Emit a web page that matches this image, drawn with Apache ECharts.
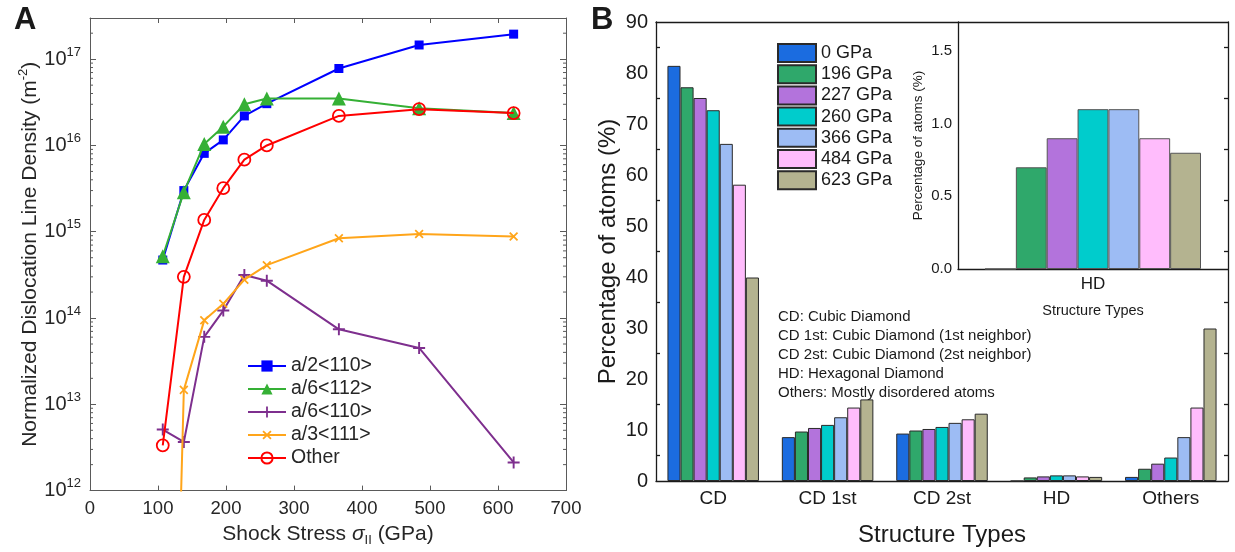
<!DOCTYPE html>
<html>
<head>
<meta charset="utf-8">
<script src="https://cdn.jsdelivr.net/npm/echarts@6/dist/echarts.min.js"></script>
<style>html,body{margin:0;padding:0;background:#fff;}#c{width:1235px;height:552px;}</style>
</head>
<body>
<div id="c"></div>
<script>
// ---------- Panel A data ----------
const stress = [107, 138, 168, 196, 227, 260, 366, 484, 623];
const a2_110 = [4.7e14, 3.0e15, 8.1e15, 1.16e16, 2.2e16, 3.05e16, 7.8e16, 1.46e17, 1.95e17];
const a6_112 = [5.2e14, 2.87e15, 1.04e16, 1.65e16, 3.0e16, 3.5e16, 3.5e16, 2.7e16, 2.37e16];
const a6_110 = [5.1e12, 3.66e12, 6.05e13, 1.22e14, 3.15e14, 2.71e14, 7.4e13, 4.5e13, 2.12e12];
const a3_111 = [1e4, 1.47e13, 9.4e13, 1.46e14, 2.78e14, 4.1e14, 8.4e14, 9.4e14, 8.8e14];
const other  = [3.35e12, 3.0e14, 1.37e15, 3.2e15, 6.85e15, 1.0e16, 2.2e16, 2.63e16, 2.37e16];
const lineNames = ['a/2<110>', 'a/6<112>', 'a/6<110>', 'a/3<111>', 'Other'];

// ---------- Panel B data ----------
const structTypes = ['CD', 'CD 1st', 'CD 2st', 'HD', 'Others'];
const pressureNames = ['0 GPa', '196 GPa', '227 GPa', '260 GPa', '366 GPa', '484 GPa', '623 GPa'];
const p0   = [81.4, 8.6, 9.3, 0, 0.8];
const p196 = [77.2, 9.7, 9.9, 0.7, 2.4];
const p227 = [75.1, 10.4, 10.2, 0.9, 3.4];
const p260 = [72.7, 11.0, 10.6, 1.1, 4.6];
const p366 = [66.1, 12.5, 11.4, 1.1, 8.6];
const p484 = [58.1, 14.4, 12.1, 0.9, 14.4];
const p623 = [39.9, 16.0, 13.2, 0.8, 29.9];
const insetCats = ['HD'];
const notes = ['CD: Cubic Diamond', 'CD 1st: Cubic Diamond (1st neighbor)', 'CD 2st: Cubic Diamond (2st neighbor)', 'HD: Hexagonal Diamond', 'Others: Mostly disordered atoms'];

const FONT = 'Liberation Sans, Arial, Helvetica, sans-serif';
const barSets = [p0, p196, p227, p260, p366, p484, p623];
const barColors = ['#1b6ce0', '#2fa86b', '#b373dc', '#00cccc', '#9dbcf4', '#ffbcfc', '#b4b390'];
const lineColors = ['#0000ff', '#35b035', '#7e2f8e', '#ffa51a', '#ff0000'];
const lineSets = [a2_110, a6_112, a6_110, a3_111, other];
const plusPath = 'path://M4.2,0 H5.8 V4.2 H10 V5.8 H5.8 V10 H4.2 V5.8 H0 V4.2 H4.2 Z';
const symbols = ['rect', 'triangle', plusPath, plusPath, 'circle'];
const symSizes = [9, 14, 12, 11, 12];
const symRot = [0, 0, 0, 45, 0];

// minor log ticks values (from 2..9 x 10^d)
const minorLog = [];
for (let d = 12; d <= 17; d++) for (let m = 2; m <= 9; m++) { const v = m * Math.pow(10, d); if (v < 3e17) minorLog.push(v); }

const expLabel = function (v) {
  const e = Math.log10(v);
  if (Math.abs(e - Math.round(e)) > 1e-6) return '';
  return '{b|10}{s|' + Math.round(e) + '}';
};
const axA = '#5a5a5a';
const txtA = '#262626';
const axisA = { show: true, onZero: false, lineStyle: { color: axA, width: 1 } };

const lineSeries = lineSets.map((arr, i) => ({
  type: 'line', name: lineNames[i], xAxisIndex: 0, yAxisIndex: 0,
  data: stress.map((x, k) => [x, arr[k]]),
  symbol: symbols[i], symbolSize: symSizes[i], symbolRotate: symRot[i], showSymbol: true,
  lineStyle: { color: lineColors[i], width: 2 },
  itemStyle: i === 4 ? { color: 'rgba(255,255,255,0)', borderColor: lineColors[i], borderWidth: 1.8 } : { color: lineColors[i] },
  clip: true, z: 3 + i
}));

const minorSeries = {
  type: 'custom', xAxisIndex: 0, yAxisIndex: 0, silent: true, z: 10,
  data: minorLog.map(v => [0, v]),
  renderItem: function (params, api) {
    const v = api.value(1);
    const p = api.coord([0, v]);
    const q = api.coord([700, v]);
    return { type: 'group', children: [
      { type: 'line', shape: { x1: p[0], y1: p[1], x2: p[0] + 3, y2: p[1] }, style: { stroke: axA, lineWidth: 1 } },
      { type: 'line', shape: { x1: q[0] - 3, y1: q[1], x2: q[0], y2: q[1] }, style: { stroke: axA, lineWidth: 1 } }
    ] };
  }
};

const mainBars = barSets.map((arr, i) => ({
  type: 'bar', name: pressureNames[i], xAxisIndex: 2, yAxisIndex: 2,
  data: arr, barGap: '0%', barCategoryGap: '20%',
  itemStyle: { color: barColors[i], borderColor: '#2a2a2a', borderWidth: 1 }
}));
const insetBars = barSets.map((arr, i) => ({
  type: 'bar', name: pressureNames[i], xAxisIndex: 6, yAxisIndex: 4,
  data: [arr[3]], barGap: '0%', barCategoryGap: '20%',
  itemStyle: { color: barColors[i], borderColor: '#555', borderWidth: 1 }
}));

const K = '#1a1a1a';
const blk = { show: true, onZero: false, lineStyle: { color: K, width: 1.3 } };

const option = {
  animation: false,
  textStyle: { fontFamily: FONT },
  grid: [
    { left: 90, top: 18, width: 476, height: 474 },
    { left: 656, top: 22, width: 572, height: 462 },
    { left: 958, top: 22, width: 270, height: 247 }
  ],
  legend: [
    { data: lineNames, orient: 'vertical', left: 247, top: 356, padding: 0, itemWidth: 38, itemHeight: 14, itemGap: 3,
      textStyle: { fontSize: 19.5, color: txtA, fontFamily: FONT, lineHeight: 20 } },
    { data: pressureNames, orient: 'vertical', left: 777, top: 43, padding: 0, itemWidth: 38, itemHeight: 18, itemGap: 1.2,
      icon: 'rect', textStyle: { fontSize: 18, color: K, fontFamily: FONT, lineHeight: 18 } }
  ],
  xAxis: [
    { gridIndex: 0, type: 'value', min: 0, max: 700, interval: 100, position: 'bottom',
      axisLine: axisA, axisTick: { inside: true, length: 5, lineStyle: { color: axA } },
      axisLabel: { fontSize: 18.5, color: txtA, margin: 9 }, splitLine: { show: false },
      name: '{a|Shock Stress }{i|σ}{s|II}{a| (GPa)}', nameLocation: 'middle', nameGap: 29,
      nameTextStyle: { rich: { a: { fontSize: 21, color: txtA }, i: { fontSize: 21, fontStyle: 'italic', color: txtA }, s: { fontSize: 13, color: txtA, padding: [13, 0, 0, 0] } } } },
    { gridIndex: 0, type: 'value', min: 0, max: 700, interval: 100, position: 'top',
      axisLine: axisA, axisTick: { inside: true, length: 5, lineStyle: { color: axA } },
      axisLabel: { show: false }, splitLine: { show: false } },
    { gridIndex: 1, type: 'category', data: structTypes, position: 'bottom',
      axisLine: blk, axisTick: { inside: true, alignWithLabel: true, length: 8, lineStyle: { color: K, width: 1.3 } },
      axisLabel: { fontSize: 19, color: K, margin: 8 }, splitLine: { show: false },
      name: 'Structure Types', nameLocation: 'middle', nameGap: 42, nameTextStyle: { fontSize: 24, color: K } },
    { gridIndex: 1, type: 'category', data: structTypes, position: 'bottom',
      axisLine: { show: false, onZero: false }, axisTick: { inside: true, length: 4, lineStyle: { color: K, width: 1.3 } },
      axisLabel: { show: false }, splitLine: { show: false } },
    { gridIndex: 1, type: 'category', data: structTypes, position: 'top',
      axisLine: blk, axisTick: { inside: true, alignWithLabel: true, length: 7, lineStyle: { color: K, width: 1.3 } },
      axisLabel: { show: false }, splitLine: { show: false } },
    { gridIndex: 1, type: 'category', data: structTypes, position: 'top',
      axisLine: { show: false, onZero: false }, axisTick: { inside: true, length: 4, lineStyle: { color: K, width: 1.3 } },
      axisLabel: { show: false }, splitLine: { show: false } },
    { gridIndex: 2, type: 'category', data: insetCats, position: 'bottom',
      axisLine: blk, axisTick: { inside: false, alignWithLabel: true, length: 6, lineStyle: { color: K, width: 1.3 } },
      axisLabel: { fontSize: 17, color: K, margin: 7 }, splitLine: { show: false },
      name: 'Structure Types', nameLocation: 'middle', nameGap: 34, nameTextStyle: { fontSize: 14.5, color: K } }
  ],
  yAxis: [
    { gridIndex: 0, type: 'log', logBase: 10, min: 1e12, max: 3e17, position: 'left',
      axisLine: axisA, axisTick: { inside: true, length: 6, lineStyle: { color: axA } },
      axisLabel: { formatter: expLabel, showMaxLabel: false, margin: 9,
        rich: { b: { fontSize: 20, color: txtA }, s: { fontSize: 13, color: txtA, padding: [0, 0, 14, 0] } } },
      splitLine: { show: false },
      name: '{a|Normalized Dislocation Line Density (m}{s|-2}{a|)}', nameLocation: 'middle', nameGap: 46,
      nameTextStyle: { rich: { a: { fontSize: 21, color: txtA }, s: { fontSize: 13, color: txtA, padding: [0, 0, 13, 0] } } } },
    { gridIndex: 0, type: 'log', logBase: 10, min: 1e12, max: 3e17, position: 'right',
      axisLine: axisA, axisTick: { inside: true, length: 6, lineStyle: { color: axA } },
      axisLabel: { show: false }, splitLine: { show: false } },
    { gridIndex: 1, type: 'value', min: 0, max: 90, interval: 10, position: 'left',
      axisLine: blk, axisTick: { inside: true, length: 7, lineStyle: { color: K, width: 1.3 } },
      minorTick: { show: true, splitNumber: 2, length: 4, lineStyle: { color: K, width: 1.3 } },
      axisLabel: { fontSize: 20, color: K, margin: 8 }, splitLine: { show: false },
      name: 'Percentage of atoms (%)', nameLocation: 'middle', nameGap: 36, nameTextStyle: { fontSize: 24, color: K } },
    { gridIndex: 1, type: 'value', min: 0, max: 90, interval: 10, position: 'right',
      axisLine: blk, axisTick: { inside: true, length: 7, lineStyle: { color: K, width: 1.3 } },
      minorTick: { show: true, splitNumber: 2, length: 4, lineStyle: { color: K, width: 1.3 } },
      axisLabel: { show: false }, splitLine: { show: false } },
    { gridIndex: 2, type: 'value', min: 0, max: 1.7, interval: 0.5, position: 'left',
      axisLine: blk, axisTick: { inside: true, length: 5, lineStyle: { color: K, width: 1.3 } },
      axisLabel: { fontSize: 15, color: K, margin: 6, showMaxLabel: false, formatter: v => v.toFixed(1) }, splitLine: { show: false },
      name: 'Percentage of atoms (%)', nameLocation: 'middle', nameGap: 33, nameTextStyle: { fontSize: 13.5, color: K } }
  ],
  graphic: [
    { type: 'text', left: 14, top: 5, style: { text: 'A', font: 'bold 31px ' + FONT, fill: K } },
    { type: 'text', left: 591, top: 5, style: { text: 'B', font: 'bold 31px ' + FONT, fill: K } },
    { type: 'text', left: 778, top: 307, style: { text: notes.join('\n'), font: '15px ' + FONT, lineHeight: 19, fill: K } }
  ],
  series: [minorSeries].concat(lineSeries, mainBars, insetBars)
};

const chart = echarts.init(document.getElementById('c'), null, { renderer: 'canvas' });
chart.setOption(option);
</script>
</body>
</html>
